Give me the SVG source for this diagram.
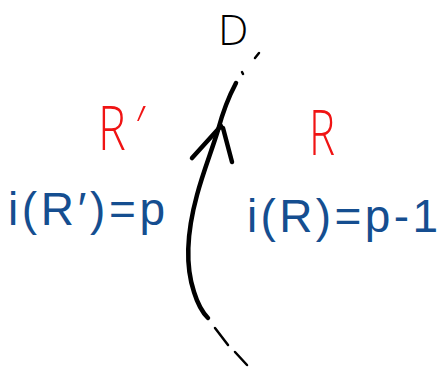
<svg xmlns="http://www.w3.org/2000/svg" width="440" height="367" viewBox="0 0 440 367">
<style>
.ink{fill:none;stroke:#000;stroke-width:4.5;stroke-linecap:round;stroke-linejoin:round}
.thin{fill:none;stroke:#000;stroke-width:2.5;stroke-linecap:round}
.lbl{font-family:"Liberation Sans","DejaVu Sans",sans-serif}
.lt{font-family:"Open Sans","Roboto","DejaVu Sans",sans-serif;font-weight:300}
.red{fill:#f01414}
.blue{fill:#154e90}
.blk{fill:#000}
</style>
<rect width="440" height="367" fill="#fff"/>
<g id="connectors">
<path class="ink" d="M236,83 C228,98 222,115 218,130 C212,150 203,172 197,195 C188,228 184,262 194,292 C198,305 203,313 208,318"/>
<path class="ink" d="M221,126 L192,158 M223,128 L232,162"/>
<path class="thin" d="M215,328 L228,345 M235,352 L247,365 M242,72 L243,74 M255,58 L259,53"/>
</g>
<g id="node-D">
<text class="lt blk" x="218" y="45" font-size="43">D</text>
</g>
<g id="node-Rprime">
<text class="lt red" transform="translate(98,150) scale(0.78,1)" font-size="60">R<tspan dx="12">′</tspan></text>
<text class="lbl blue" x="8" y="225" font-size="46" textLength="157" lengthAdjust="spacing">i(R′)=p</text>
</g>
<g id="node-R">
<text class="lt red" x="309" y="155" font-size="62" textLength="26" lengthAdjust="spacingAndGlyphs">R</text>
<text class="lbl blue" x="247" y="232" font-size="46" textLength="191" lengthAdjust="spacing">i(R)=p-1</text>
</g>
</svg>
